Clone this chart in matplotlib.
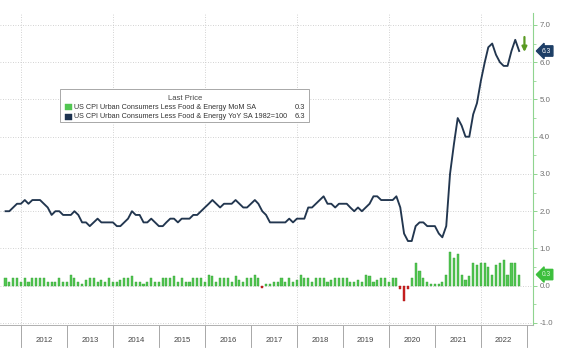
import matplotlib
matplotlib.use('Agg')
import matplotlib.pyplot as plt
import pandas as pd
from matplotlib.transforms import blended_transform_factory
from matplotlib.patches import Rectangle

plt.rcParams['font.family'] = ['Liberation Sans', 'DejaVu Sans']

# ---- data (monthly, Aug 2011 .. Oct 2022) ----
start_month = '2011-08-31'
yoy = [2.0, 2.0, 2.1, 2.2, 2.2,
       2.3, 2.2, 2.3, 2.3, 2.3, 2.2, 2.1, 1.9, 2.0, 2.0, 1.9, 1.9,
       1.9, 2.0, 1.9, 1.7, 1.7, 1.6, 1.7, 1.8, 1.7, 1.7, 1.7, 1.7,
       1.6, 1.6, 1.7, 1.8, 2.0, 1.9, 1.9, 1.7, 1.7, 1.8, 1.7, 1.6,
       1.6, 1.7, 1.8, 1.8, 1.7, 1.8, 1.8, 1.8, 1.9, 1.9, 2.0, 2.1,
       2.2, 2.3, 2.2, 2.1, 2.2, 2.2, 2.2, 2.3, 2.2, 2.1, 2.1, 2.2,
       2.3, 2.2, 2.0, 1.9, 1.7, 1.7, 1.7, 1.7, 1.7, 1.8, 1.7, 1.8,
       1.8, 1.8, 2.1, 2.1, 2.2, 2.3, 2.4, 2.2, 2.2, 2.1, 2.2, 2.2,
       2.2, 2.1, 2.0, 2.1, 2.0, 2.1, 2.2, 2.4, 2.4, 2.3, 2.3, 2.3,
       2.3, 2.4, 2.1, 1.4, 1.2, 1.2, 1.6, 1.7, 1.7, 1.6, 1.6, 1.6,
       1.4, 1.3, 1.6, 3.0, 3.8, 4.5, 4.3, 4.0, 4.0, 4.6, 4.9, 5.5,
       6.0, 6.4, 6.5, 6.2, 6.0, 5.9, 5.9, 6.3, 6.6, 6.3]
mom = [0.2, 0.1, 0.2, 0.2, 0.1,
       0.2, 0.1, 0.2, 0.2, 0.2, 0.2, 0.1, 0.1, 0.1, 0.2, 0.1, 0.1,
       0.3, 0.2, 0.1, 0.05, 0.15, 0.2, 0.2, 0.1, 0.15, 0.1, 0.2, 0.1,
       0.1, 0.15, 0.2, 0.2, 0.25, 0.1, 0.1, 0.05, 0.1, 0.2, 0.1, 0.1,
       0.2, 0.2, 0.2, 0.25, 0.1, 0.2, 0.1, 0.1, 0.2, 0.2, 0.2, 0.1,
       0.3, 0.25, 0.1, 0.2, 0.2, 0.2, 0.1, 0.25, 0.15, 0.1, 0.2, 0.2,
       0.3, 0.2, -0.05, 0.05, 0.05, 0.1, 0.1, 0.2, 0.1, 0.2, 0.1, 0.15,
       0.3, 0.2, 0.2, 0.1, 0.2, 0.2, 0.2, 0.1, 0.15, 0.2, 0.2, 0.2,
       0.2, 0.1, 0.1, 0.15, 0.1, 0.3, 0.25, 0.1, 0.15, 0.2, 0.2, 0.1,
       0.2, 0.2, -0.1, -0.4, -0.1, 0.2, 0.6, 0.4, 0.2, 0.1, 0.05, 0.05,
       0.05, 0.1, 0.3, 0.9, 0.75, 0.85, 0.3, 0.15, 0.25, 0.6, 0.55, 0.6,
       0.6, 0.5, 0.3, 0.55, 0.6, 0.7, 0.3, 0.6, 0.6, 0.3]
year_labels = ['2012', '2013', '2014', '2015', '2016', '2017',
               '2018', '2019', '2020', '2021', '2022']
y_ticks = [-1, 0, 1, 2, 3, 4, 5, 6, 7]
legend_title = 'Last Price'
legend_names = ['US CPI Urban Consumers Less Food & Energy MoM SA',
                'US CPI Urban Consumers Less Food & Energy YoY SA 1982=100']
last_mom = 0.3
last_yoy = 6.3

NAVY = '#22364f'
GREEN = '#52c652'
GREEN_EDGE = '#34a334'
RED = '#cc2222'

fig = plt.figure(figsize=(5.76, 3.57), dpi=100)
ax = fig.add_axes([0, 1 - 325 / 357, 533 / 576, 312 / 357])

dates = pd.date_range(start_month, periods=len(yoy), freq='ME')

bar_colors = [GREEN if v >= 0 else RED for v in mom]
edge_colors = [GREEN_EDGE if v >= 0 else '#aa1111' for v in mom]
ax.bar(dates, mom, width=17, color=bar_colors, edgecolor=edge_colors,
       linewidth=0.3, zorder=2)
ax.plot(dates, yoy, color=NAVY, lw=1.35, zorder=3, solid_joinstyle='round')

x_left = pd.Timestamp('2012-01-01') - pd.Timedelta(days=167)
x_right = pd.Timestamp('2023-01-01') + pd.Timedelta(days=48)
ax.set_xlim(x_left, x_right)
ax.set_ylim(-1.054, 7.32)

for v in y_ticks:
    ax.axhline(v, color='#c4c4c4', ls=(0, (1, 2)), lw=0.6, zorder=0)
for y in year_labels[::2]:
    ax.axvline(pd.Timestamp(f'{y}-01-01'), color='#c4c4c4',
               ls=(0, (1, 2)), lw=0.6, zorder=0)

for s in ['top', 'left']:
    ax.spines[s].set_visible(False)
ax.spines['bottom'].set_color('#b0b0b0')
ax.spines['bottom'].set_linewidth(0.7)
ax.spines['right'].set_color('#8fd48f')
ax.spines['right'].set_linewidth(0.8)

ax.yaxis.tick_right()
ax.set_yticks(y_ticks)
ax.set_yticklabels([f'{v:.1f}' for v in y_ticks])
ax.set_yticks([v + 0.5 for v in y_ticks[:-1]], minor=True)
ax.tick_params(axis='y', which='major', length=3, width=0.6, color='#7fcf7f',
               labelsize=5.7, labelcolor='#707070', pad=1.5)
ax.tick_params(axis='y', which='minor', length=1.8, width=0.5, color='#7fcf7f')
ax.set_xticks([])

# date strip below the plot
trans = blended_transform_factory(ax.transData, ax.transAxes)
for y in year_labels + ['2023']:
    d = pd.Timestamp(f'{y}-01-01')
    ax.plot([d, d], [0, -0.072], transform=trans, color='#9a9a9a',
            lw=0.6, clip_on=False)
for y in year_labels:
    ax.text(pd.Timestamp(f'{y}-07-01'), -0.05, y, transform=trans,
            ha='center', va='center', fontsize=5.6, color='#444444')

# last-value badges on the right axis
btrans = blended_transform_factory(ax.transAxes, ax.transData)
ax.text(1 + 9 / 533, last_yoy, f'{last_yoy:.1f}', transform=btrans,
        ha='left', va='center', fontsize=4.8, color='white', clip_on=False,
        bbox=dict(boxstyle='larrow,pad=0.25', fc='#1d3e66', ec='#1d3e66'))
ax.text(1 + 9 / 533, last_mom, f'{last_mom:.1f}', transform=btrans,
        ha='left', va='center', fontsize=4.8, color='#d9f5d9', clip_on=False,
        bbox=dict(boxstyle='larrow,pad=0.25', fc='#3cbf3c', ec='#3cbf3c'))

# green down arrow marker near the last point
arrow_x = pd.Timestamp('2022-12-12')
ax.annotate('', xy=(arrow_x, 6.2), xytext=(arrow_x, 6.75),
            arrowprops=dict(arrowstyle='-|>', color='#5a9a22', lw=1.6,
                            mutation_scale=7), zorder=4)

# legend box (drawn in figure pixel coordinates)
W, H = 576, 357
def fx(px):
    return px / W
def fy(py):
    return 1 - py / H
fig.patches.append(Rectangle((fx(60), fy(122)), fx(309) - fx(60), fy(89) - fy(122),
                             transform=fig.transFigure, fc='white',
                             ec='#9a9a9a', lw=0.6, zorder=5))
fig.text(fx(185), fy(99), legend_title, ha='center', va='center',
         fontsize=5.5, color='#444444', zorder=6)
rows = [(legend_names[0], GREEN, last_mom, 107),
        (legend_names[1], '#1d3350', last_yoy, 117)]
for name, col, val, py in rows:
    fig.patches.append(Rectangle((fx(65), fy(py + 3)), fx(7), 6 / H,
                                 transform=fig.transFigure, fc=col,
                                 ec=col, lw=0.3, zorder=6))
    fig.text(fx(74), fy(py), name, ha='left', va='center', fontsize=5.25,
             color='#333333', zorder=6)
    fig.text(fx(305), fy(py), f'{val:.1f}', ha='right', va='center',
             fontsize=5.4, color='#333333', zorder=6)

fig.savefig('out.png', dpi=100)
